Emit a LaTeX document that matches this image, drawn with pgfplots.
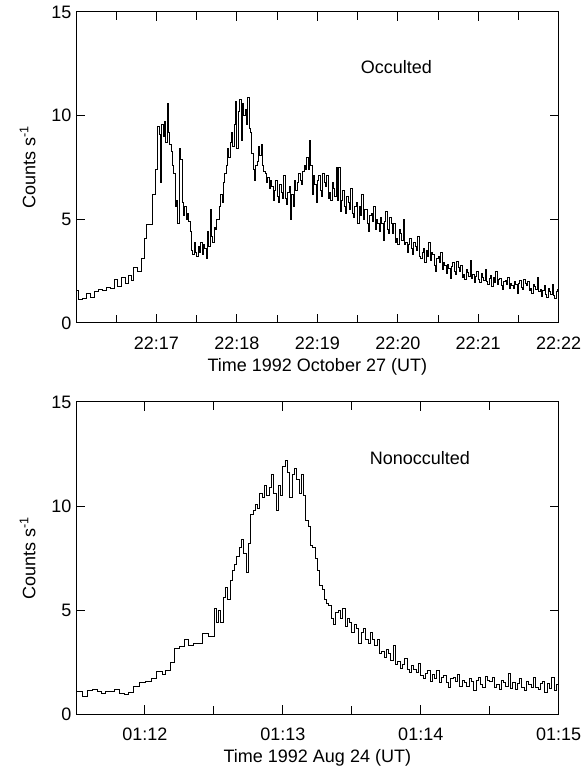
\documentclass[border=0pt]{standalone}
\usepackage{fontspec}
\setmainfont{Liberation Sans}
\usepackage{pgfplots}
\usepackage{pgfplotstable}
\pgfplotsset{compat=1.18}

% occulted flare, 1 s bins from t = 56 s (t = 0 at 22:16:00)
\pgfplotstableread[row sep=\\, header=false]{
4.75\\6.2\\6.2\\7.4\\7.4\\9.5\\9.1\\6.8\\9.6\\9.0\\
9.7\\8.7\\10.6\\9.2\\8.6\\8.3\\7.6\\7.2\\5.6\\5.9\\
4.8\\8.4\\7.9\\5.8\\5.2\\5.6\\5.0\\5.3\\4.9\\4.4\\
3.5\\3.3\\3.9\\3.4\\3.2\\3.7\\3.4\\3.9\\3.3\\3.8\\
3.6\\3.1\\4.4\\3.7\\5.5\\4.2\\3.9\\4.6\\4.5\\5.0\\
5.0\\5.6\\6.2\\5.8\\6.8\\7.2\\7.6\\8.4\\8.0\\8.7\\
9.2\\8.5\\9.6\\10.7\\8.4\\10.2\\10.8\\8.8\\10.6\\10.0\\
10.3\\9.6\\10.9\\9.4\\9.2\\8.2\\7.4\\6.9\\7.6\\7.8\\
8.5\\8.1\\8.6\\7.6\\7.3\\7.2\\6.8\\7.0\\6.5\\6.9\\
6.6\\5.9\\6.4\\6.9\\6.1\\5.8\\6.7\\6.3\\6.0\\7.1\\
6.0\\5.7\\6.3\\6.6\\5.0\\6.2\\5.6\\6.9\\6.4\\6.8\\
7.2\\6.9\\6.7\\7.3\\7.6\\7.4\\8.0\\7.4\\8.8\\7.6\\
6.2\\7.1\\6.7\\5.8\\6.9\\7.1\\6.4\\6.1\\7.2\\6.8\\
6.6\\7.1\\6.0\\6.3\\5.9\\6.8\\6.5\\6.1\\7.5\\5.9\\
7.5\\5.4\\5.9\\6.4\\5.6\\5.3\\6.1\\5.8\\5.5\\6.5\\
5.3\\5.1\\5.6\\5.8\\4.8\\5.6\\5.2\\6.2\\5.0\\5.5\\
5.5\\4.8\\4.4\\5.2\\5.3\\4.9\\5.6\\4.5\\5.0\\4.8\\
4.4\\5.1\\4.8\\4.0\\4.9\\5.4\\4.5\\4.3\\5.1\\4.8\\
4.3\\4.8\\3.9\\4.1\\3.8\\4.5\\4.3\\4.0\\5.0\\3.8\\
3.9\\3.4\\3.8\\4.1\\3.6\\3.3\\3.9\\3.7\\3.5\\4.2\\
3.2\\3.1\\3.4\\3.6\\2.9\\3.5\\3.2\\3.9\\3.0\\3.4\\
3.3\\2.8\\2.5\\3.1\\3.2\\2.9\\3.4\\2.6\\2.9\\2.8\\
2.4\\2.85\\2.65\\2.15\\2.75\\2.9\\2.5\\2.35\\2.95\\2.7\\
2.5\\2.8\\2.2\\2.35\\2.1\\2.6\\2.45\\2.25\\3.0\\2.15\\
2.35\\1.95\\2.25\\2.5\\2.1\\1.95\\2.4\\2.2\\2.05\\2.6\\
2.0\\1.85\\2.15\\2.3\\1.75\\2.2\\1.95\\2.5\\1.85\\2.1\\
2.15\\1.8\\1.6\\2.0\\2.05\\1.85\\2.2\\1.65\\1.9\\1.8\\
1.65\\2.0\\1.85\\1.45\\1.9\\2.05\\1.7\\1.6\\2.1\\1.9\\
1.8\\2.0\\1.55\\1.65\\1.45\\1.85\\1.75\\1.6\\2.2\\1.5\\
1.6\\1.3\\1.55\\1.8\\1.4\\1.25\\1.65\\1.5\\1.4\\1.85\\
1.35\\1.2\\1.5\\1.6\\1.15\\
}\occdense

% nonocculted flare, 1 s bins from t = 60 s (t = 0 at 01:11:30)
\pgfplotstableread[row sep=\\, header=false]{
5.1\\4.4\\5.0\\4.4\\5.6\\6.1\\5.5\\6.4\\6.9\\7.2\\
7.6\\8.0\\8.4\\7.7\\6.8\\8.2\\9.6\\9.8\\10.1\\9.9\\
10.6\\10.4\\11.0\\10.5\\10.9\\11.5\\10.6\\9.8\\11.0\\10.5\\
11.9\\12.2\\11.6\\10.4\\11.5\\11.8\\11.3\\10.6\\11.5\\10.5\\
9.3\\9.0\\8.1\\8.0\\7.5\\6.9\\6.2\\6.0\\5.5\\5.3\\
5.2\\4.6\\4.3\\4.9\\5.0\\4.6\\5.1\\4.2\\4.6\\4.4\\
3.9\\4.3\\4.1\\3.4\\3.9\\4.1\\3.6\\3.4\\3.9\\3.6\\
3.3\\3.6\\2.9\\3.0\\2.7\\3.1\\2.9\\2.6\\3.3\\2.4\\
2.55\\2.2\\2.4\\2.65\\2.15\\2.0\\2.35\\2.15\\2.0\\2.45\\
1.85\\1.7\\1.95\\2.1\\1.55\\1.9\\1.7\\2.1\\1.5\\1.75\\
1.85\\1.5\\1.3\\1.7\\1.75\\1.55\\1.9\\1.35\\1.6\\1.5\\
1.35\\1.7\\1.55\\1.15\\1.6\\1.75\\1.4\\1.3\\1.8\\1.6\\
1.55\\1.75\\1.3\\1.4\\1.2\\1.6\\1.5\\1.35\\1.95\\1.25\\
1.5\\1.2\\1.45\\1.7\\1.3\\1.15\\1.55\\1.4\\1.3\\1.75\\
1.3\\1.2\\1.45\\1.55\\1.05\\1.45\\1.25\\1.75\\1.15\\1.4\\
1.3\\
}\nondense

\pgfplotsset{
  lc/.style={
    scale only axis, width=362pt,
    xmin=0, ymin=0, ymax=15,
    ytick={0,5,10,15},
    axis line style={line width=0.75pt},
    every tick/.style={line width=0.75pt, black},
    tick align=inside,
    major tick length=6.5pt, minor tick length=6pt,
    tick label style={font=\fontsize{13.5}{16}\selectfont},
    label style={font=\fontsize{13.5}{16}\selectfont},
    /pgf/number format/assume math mode=true,
    ylabel={Counts s\textsuperscript{-1}},
    ylabel shift=5pt,
    xticklabel style={yshift=-7pt},
    clip=true,
  },
  curve/.style={const plot, black, line width=0.6pt, mark=none},
}

\begin{document}
\begin{tikzpicture}
\useasboundingbox (-57pt,-332.25pt) rectangle (381.75pt,242.25pt);

\begin{axis}[lc, at={(0,0)}, anchor=south west,
  height=233.25pt, xmax=360,
  xtick={60,120,180,240,300,360},
  xticklabels={22:17,22:18,22:19,22:20,22:21,22:22},
  minor xtick={30,90,150,210,270,330},
  xlabel={Time 1992 October 27 (UT)},
]
\addplot[curve] coordinates {
  (0,1.55) (2,1.15) (5,1.2) (8,1.45) (11,1.25) (14,1.5) (17,1.6)
  (20,1.55) (23,1.7) (26,1.65) (29,2.1) (31,1.75) (34,2.2) (37,1.9)
  (39,2.3) (41,2.05) (43,2.7) (46,2.5) (48.5,3.1) (51,4.1) (52.7,4.75) (56,4.75)
};
\addplot[curve] table[x expr=\coordindex+56, y index=0] {\occdense};
\node at (axis cs:239,12.35) {\fontsize{13.5}{16}\selectfont Occulted};
\end{axis}

\begin{axis}[lc, at={(0,-293.25pt)}, anchor=south west,
  height=234pt, xmax=210,
  xtick={30,90,150,210},
  xticklabels={01:12,01:13,01:14,01:15},
  minor xtick={60,120,180},
  xlabel={Time 1992 Aug 24 (UT)},
]
\addplot[curve] coordinates {
  (0,1.07) (2.9,0.87) (5,1.15) (7.2,1.2) (9.4,1.07) (11,1.0) (13,1.1)
  (16.7,1.2) (19,1.0) (21,0.95) (23,1.05) (25,1.35) (27.5,1.5) (30.4,1.56)
  (33,1.7) (35,2.04) (37.4,1.9) (39,2.1) (41,2.5) (43,3.15) (45,3.24)
  (47,3.6) (49,3.32) (51,3.4) (55,3.88) (57.7,3.72) (60,5.1)
};
\addplot[curve] table[x expr=\coordindex+60, y index=0] {\nondense};
\node at (axis cs:149.6,12.3) {\fontsize{13.5}{16}\selectfont Nonocculted};
\end{axis}
\end{tikzpicture}
\end{document}
